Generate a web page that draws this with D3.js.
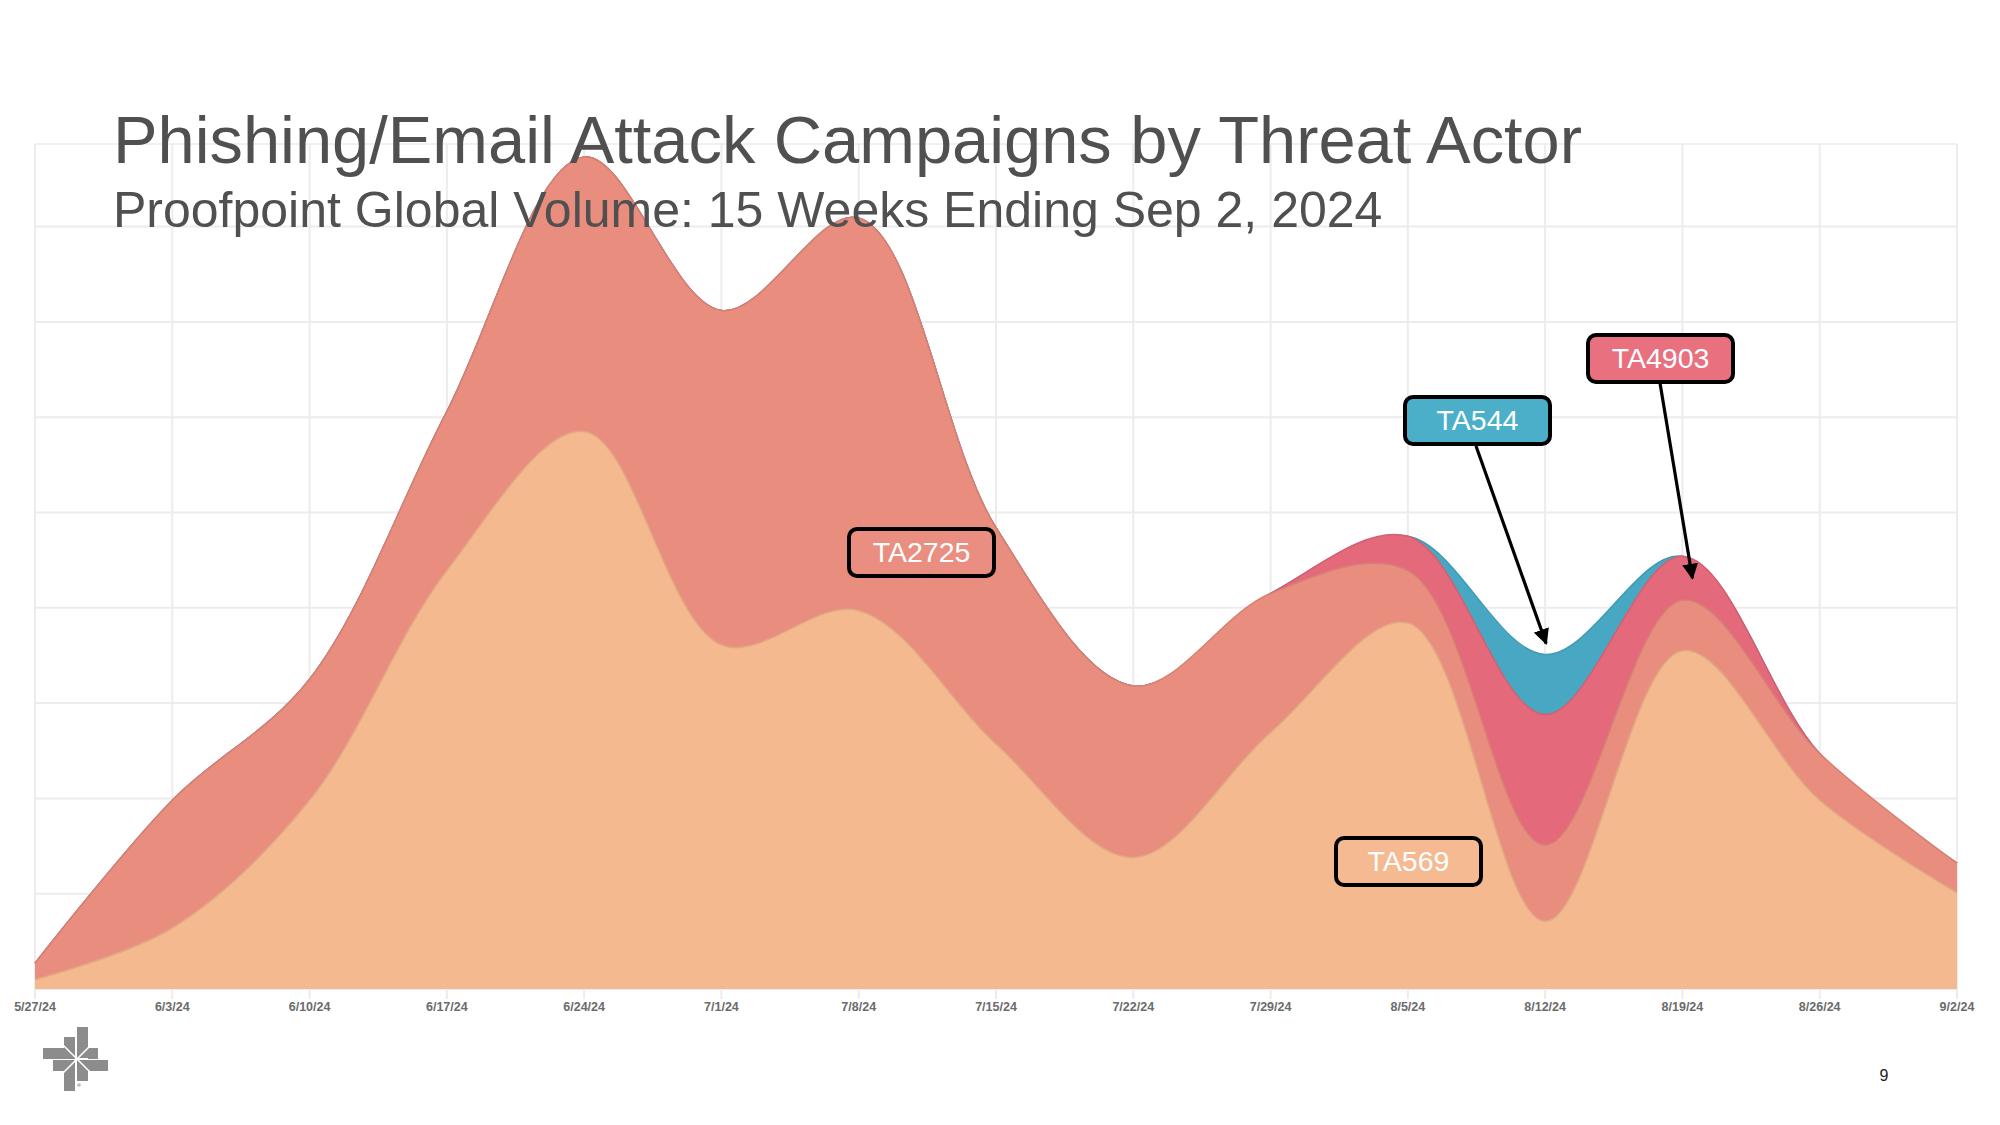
<!DOCTYPE html>
<html>
<head>
<meta charset="utf-8">
<script src="https://cdn.jsdelivr.net/npm/d3@7"></script>
<style>
  html, body { margin: 0; padding: 0; background: #ffffff; }
  svg { display: block; }
</style>
</head>
<body>
<svg id="chart" width="2000" height="1125"></svg>
<script>
// ---- Data (weekly volume, relative units) ----
const dates = ["5/27/24","6/3/24","6/10/24","6/17/24","6/24/24","7/1/24","7/8/24","7/15/24",
               "7/22/24","7/29/24","8/5/24","8/12/24","8/19/24","8/26/24","9/2/24"];
const seriesNames = ["TA569", "TA2725", "TA4903", "TA544"];
const ta569  = [1.0, 6.4, 19.8, 43.9, 58.5, 36.1, 39.7, 25.7, 13.8, 26.9, 38.4, 7.1, 35.5, 19.8, 10.1];
const ta2725 = [1.7, 13.4, 12.7, 16.7, 28.8, 35.1, 41.2, 22.7, 18.0, 14.6, 5.5, 8.0, 5.3, 4.9, 3.1];
const ta4903 = [0, 0, 0, 0, 0, 0, 0, 0, 0, 0, 3.6, 13.7, 4.6, 0, 0];
const ta544  = [0, 0, 0, 0, 0, 0, 0, 0, 0, 0, 0, 6.3, 0, 0, 0];
const gridTicks = [0, 10, 20, 30, 40, 50, 60, 70, 80];

const title = "Phishing/Email Attack Campaigns by Threat Actor";
const subtitle = "Proofpoint Global Volume: 15 Weeks Ending Sep 2, 2024";

// ---- Styles ----
const colors = { TA569: "#F5B98F", TA2725: "#E98D7F", TA4903: "#E4697B", TA544: "#48A8C4" };
const boxFill = { TA569: "#F5BA91", TA2725: "#EA8E81", TA4903: "#E8707F", TA544: "#4BAFC9" };

const rows = dates.map((d, i) => ({
  date: d, TA569: ta569[i], TA2725: ta2725[i], TA4903: ta4903[i], TA544: ta544[i]
}));

const svg = d3.select("#chart");
const left = 35, right = 1957, bottom = 989, plotTop = 144;

const x = d3.scalePoint().domain(dates).range([left, right]);
const y = d3.scaleLinear().domain([0, 80]).range([bottom, 226.6]);

// ---- Grid ----
const grid = svg.append("g");
grid.selectAll("line.h").data(gridTicks).join("line")
  .attr("x1", left).attr("x2", right)
  .attr("y1", d => y(d)).attr("y2", d => y(d))
  .attr("stroke", "#ececec").attr("stroke-width", 2);
grid.append("line").attr("x1", left).attr("x2", right)
  .attr("y1", plotTop).attr("y2", plotTop)
  .attr("stroke", "#f0f0f0").attr("stroke-width", 2);
grid.selectAll("line.v").data(dates).join("line")
  .attr("x1", d => x(d)).attr("x2", d => x(d))
  .attr("y1", plotTop).attr("y2", bottom + 10)
  .attr("stroke", "#ececec").attr("stroke-width", 2);

// ---- Stacked areas (drawn top layer first, each from baseline, to avoid crossings) ----
const stack = d3.stack().keys(seriesNames);
const layers = stack(rows);
const curve = d3.curveCatmullRom;
const area = d3.area()
  .x(d => x(d.data.date))
  .y0(y(0))
  .y1(d => y(d[1]))
  .curve(curve);
const topLine = d3.line()
  .x(d => x(d.data.date))
  .y(d => y(d[1]))
  .curve(curve);

const layerG = svg.append("g");
layers.slice().reverse().forEach(layer => {
  const c = colors[layer.key];
  layerG.append("path").datum(layer)
    .attr("d", area)
    .attr("fill", c);
  layerG.append("path").datum(layer)
    .attr("d", topLine)
    .attr("fill", "none")
    .attr("stroke", d3.color(c).darker(0.25))
    .attr("stroke-width", 1.5);
});

// ---- X axis labels ----
svg.append("g").selectAll("text").data(dates).join("text")
  .attr("x", d => x(d)).attr("y", 1011)
  .attr("text-anchor", "middle")
  .attr("font-family", "'Liberation Sans Narrow', 'Liberation Sans', Arial, sans-serif")
  .attr("font-weight", "bold")
  .attr("font-size", 12.5)
  .attr("fill", "#6b6b6b")
  .text(d => d);

// ---- Annotations ----
const defs = svg.append("defs");
defs.append("marker").attr("id", "arrow")
  .attr("viewBox", "0 0 10 10").attr("refX", 9).attr("refY", 5)
  .attr("markerWidth", 5).attr("markerHeight", 5)
  .attr("markerUnits", "strokeWidth")
  .attr("orient", "auto")
  .append("path").attr("d", "M0,0 L10,5 L0,10 Z").attr("fill", "#000");

const idx = n => dates.indexOf(n);
const cum = (key, i) => layers[seriesNames.indexOf(key)][i][1];
const cumLow = (key, i) => layers[seriesNames.indexOf(key)][i][0];

// arrows
const arrows = [
  { x1: 1476, y1: 446, x2: x("8/12/24") + 1, y2: y(cum("TA544", idx("8/12/24"))) - 11 },
  { x1: 1660, y1: 383, x2: x("8/19/24") + 10,
    y2: (y(cum("TA4903", idx("8/19/24"))) + y(cumLow("TA4903", idx("8/19/24")))) / 2 }
];
svg.append("g").selectAll("line").data(arrows).join("line")
  .attr("x1", d => d.x1).attr("y1", d => d.y1)
  .attr("x2", d => d.x2).attr("y2", d => d.y2)
  .attr("stroke", "#000").attr("stroke-width", 3.2)
  .attr("marker-end", "url(#arrow)");

const labels = [
  { key: "TA2725", x: 847, y: 527 },
  { key: "TA544",  x: 1403, y: 395 },
  { key: "TA4903", x: 1586, y: 333 },
  { key: "TA569",  x: 1334, y: 836 }
];
const lg = svg.append("g").selectAll("g").data(labels).join("g")
  .attr("transform", d => `translate(${d.x},${d.y})`);
lg.append("rect")
  .attr("x", 2).attr("y", 2)
  .attr("width", 145).attr("height", 47)
  .attr("rx", 8).attr("ry", 8)
  .attr("fill", d => boxFill[d.key])
  .attr("stroke", "#000").attr("stroke-width", 4);
lg.append("text")
  .attr("x", 74.5).attr("y", 35)
  .attr("text-anchor", "middle")
  .attr("font-family", "'Liberation Sans', Arial, sans-serif")
  .attr("font-size", 28.5)
  .attr("fill", "#ffffff")
  .text(d => d.key);

// ---- Titles ----
svg.append("text")
  .attr("x", 113).attr("y", 163)
  .attr("font-family", "'Liberation Sans', Arial, sans-serif")
  .attr("font-size", 66.8)
  .attr("fill", "#505050")
  .text(title);
svg.append("text")
  .attr("x", 113).attr("y", 227)
  .attr("font-family", "'Liberation Sans', Arial, sans-serif")
  .attr("font-size", 50)
  .attr("fill", "#505050")
  .text(subtitle);

// ---- Page number ----
svg.append("text")
  .attr("x", 1884).attr("y", 1081)
  .attr("text-anchor", "middle")
  .attr("font-family", "'Liberation Sans', Arial, sans-serif")
  .attr("font-size", 16)
  .attr("fill", "#222")
  .text("9");

// ---- Logo (decorative) ----
const logo = svg.append("g").attr("fill", "#8c8c8c");
const logoRects = [
  [43, 1048, 32, 11], [64, 1037, 11, 21],
  [77, 1027, 11, 31], [88, 1048, 10, 11],
  [77, 1060, 31, 11], [77, 1071, 11, 10],
  [64, 1060, 11, 31], [53, 1060, 11, 11]
];
logo.selectAll("rect").data(logoRects).join("rect")
  .attr("x", d => d[0]).attr("y", d => d[1])
  .attr("width", d => d[2]).attr("height", d => d[3]);
const lw = svg.append("g").attr("stroke", "#ffffff").attr("stroke-width", 1.6);
lw.append("line").attr("x1", 62).attr("y1", 1044).attr("x2", 92).attr("y2", 1074);
lw.append("line").attr("x1", 92).attr("y1", 1044).attr("x2", 62).attr("y2", 1074);
svg.append("circle").attr("cx", 79).attr("cy", 1085).attr("r", 1.8).attr("fill", "#bbbbbb");
</script>
</body>
</html>
